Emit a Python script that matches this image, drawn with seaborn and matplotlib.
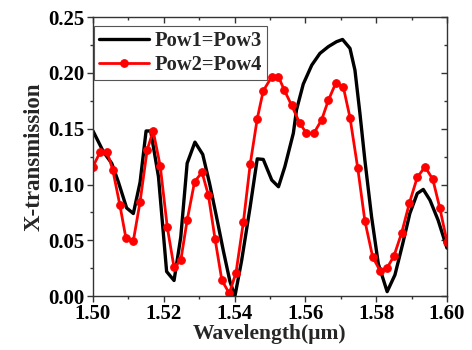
import matplotlib
matplotlib.use("Agg")
import matplotlib.pyplot as plt
import seaborn as sns
import numpy as np
from matplotlib.ticker import MultipleLocator

# Data
wl_black = [1.5000, 1.5030, 1.5053, 1.5072, 1.5095, 1.5114, 1.5133, 1.5150, 1.5163, 1.5185,
            1.5208, 1.5229, 1.5248, 1.5266, 1.5288, 1.5310, 1.5330, 1.5349, 1.5368, 1.5387,
            1.5401, 1.5420, 1.5444, 1.5464, 1.5481, 1.5505, 1.5524, 1.5542, 1.5566, 1.5575,
            1.5594, 1.5618, 1.5641, 1.5665, 1.5688, 1.5705, 1.5726, 1.5740, 1.5754, 1.5768,
            1.5787, 1.5806, 1.5831, 1.5853, 1.5875, 1.5895, 1.5916, 1.5933, 1.5952, 1.5975,
            1.6000]
tr_black = [0.148, 0.129, 0.119, 0.102, 0.079, 0.074, 0.102, 0.148, 0.148, 0.107,
            0.022, 0.014, 0.053, 0.119, 0.138, 0.127, 0.100, 0.071, 0.041, 0.013,
            0.000, 0.032, 0.080, 0.123, 0.1225, 0.104, 0.098, 0.116, 0.146, 0.167,
            0.190, 0.207, 0.2175, 0.2236, 0.228, 0.230, 0.222, 0.2025, 0.164, 0.122,
            0.071, 0.029, 0.004, 0.019, 0.047, 0.074, 0.092, 0.0956, 0.086, 0.068,
            0.043]

wl_red = [1.5000, 1.5020, 1.5040, 1.5056, 1.5076, 1.5093, 1.5114, 1.5133, 1.5153, 1.5170,
          1.5190, 1.5210, 1.5229, 1.5248, 1.5266, 1.5287, 1.5308, 1.5326, 1.5345, 1.5364,
          1.5385, 1.5404, 1.5425, 1.5444, 1.5464, 1.5481, 1.5505, 1.5524, 1.5540, 1.5561,
          1.5584, 1.5603, 1.5624, 1.5646, 1.5665, 1.5686, 1.5707, 1.5726, 1.5748, 1.5768,
          1.5790, 1.5811, 1.5830, 1.5850, 1.5872, 1.5894, 1.5916, 1.5938, 1.5960, 1.5980,
          1.6000]
tr_red = [0.116, 0.129, 0.129, 0.113, 0.0815, 0.052, 0.0496, 0.0845, 0.131, 0.148,
          0.1165, 0.0615, 0.0257, 0.032, 0.068, 0.1025, 0.111, 0.0905, 0.0508, 0.0143,
          0.0024, 0.021, 0.0666, 0.118, 0.159, 0.184, 0.1965, 0.1965, 0.185, 0.171,
          0.155, 0.146, 0.146, 0.158, 0.1756, 0.191, 0.1876, 0.160, 0.1145, 0.0675,
          0.0352, 0.0227, 0.0248, 0.0358, 0.0567, 0.0836, 0.1064, 0.1159, 0.1046, 0.0786,
          0.0487]

label_black = "Pow1=Pow3"
label_red = "Pow2=Pow4"
xticks = [1.50, 1.52, 1.54, 1.56, 1.58, 1.60]
yticks = [0.00, 0.05, 0.10, 0.15, 0.20, 0.25]

sns.set_style("ticks")
plt.rcParams['font.family'] = ['Liberation Serif', 'DejaVu Serif']
plt.rcParams['font.weight'] = 'bold'

fig = plt.figure(figsize=(4.72, 3.5), dpi=100)
ax = fig.add_axes([0.197, 0.154, 0.750, 0.797])

sns.lineplot(x=wl_black, y=tr_black, ax=ax, color='black', linewidth=2.4,
             label=label_black, sort=False)
sns.lineplot(x=wl_red, y=tr_red, ax=ax, color='#ff0000', linewidth=2.0,
             marker='o', markersize=5.5, markeredgecolor='#ff0000',
             label=label_red, sort=False)

ax.set_xlim(1.50, 1.60)
ax.set_ylim(0.00, 0.25)
ax.set_xticks(xticks)
ax.set_yticks(yticks)
ax.set_xticklabels([f"{v:.2f}" for v in xticks])
ax.set_yticklabels([f"{v:.2f}" for v in yticks])
ax.xaxis.set_minor_locator(MultipleLocator(0.01))
ax.yaxis.set_minor_locator(MultipleLocator(0.025))

for s in ax.spines.values():
    s.set_visible(True)
    s.set_linewidth(1.0)
    s.set_color('#333333')

ax.tick_params(axis='both', which='major', direction='out', length=4, width=1,
               labelsize=15, colors='#333333', labelcolor='black', pad=2)
ax.tick_params(axis='both', which='minor', direction='out', length=2.5, width=1,
               colors='#333333')
ax.tick_params(which='both', top=True, right=True)
# mirrored ticks inward on top and right
for t in ax.xaxis.get_major_ticks() + ax.xaxis.get_minor_ticks():
    t.tick2line.set_marker(matplotlib.lines.TICKDOWN)
for t in ax.yaxis.get_major_ticks() + ax.yaxis.get_minor_ticks():
    t.tick2line.set_marker(matplotlib.lines.TICKLEFT)

for lab in ax.get_xticklabels() + ax.get_yticklabels():
    lab.set_fontweight('bold')

ax.set_xlabel("Wavelength(μm)", fontsize=15.5, fontweight='bold', labelpad=0)
ax.set_ylabel("X-transmission", fontsize=16.5, fontweight='bold', labelpad=3)

leg = ax.legend(loc='upper left', bbox_to_anchor=(0.003, 0.968), frameon=True,
                fancybox=False, framealpha=1, edgecolor='#555555',
                prop={'family': 'Liberation Serif', 'weight': 'bold', 'size': 14.8},
                handlelength=2.4, handletextpad=0.3, borderpad=0.25,
                labelspacing=0.2, borderaxespad=0)
leg.get_frame().set_linewidth(0.8)

fig.savefig("out.png", dpi=100)
